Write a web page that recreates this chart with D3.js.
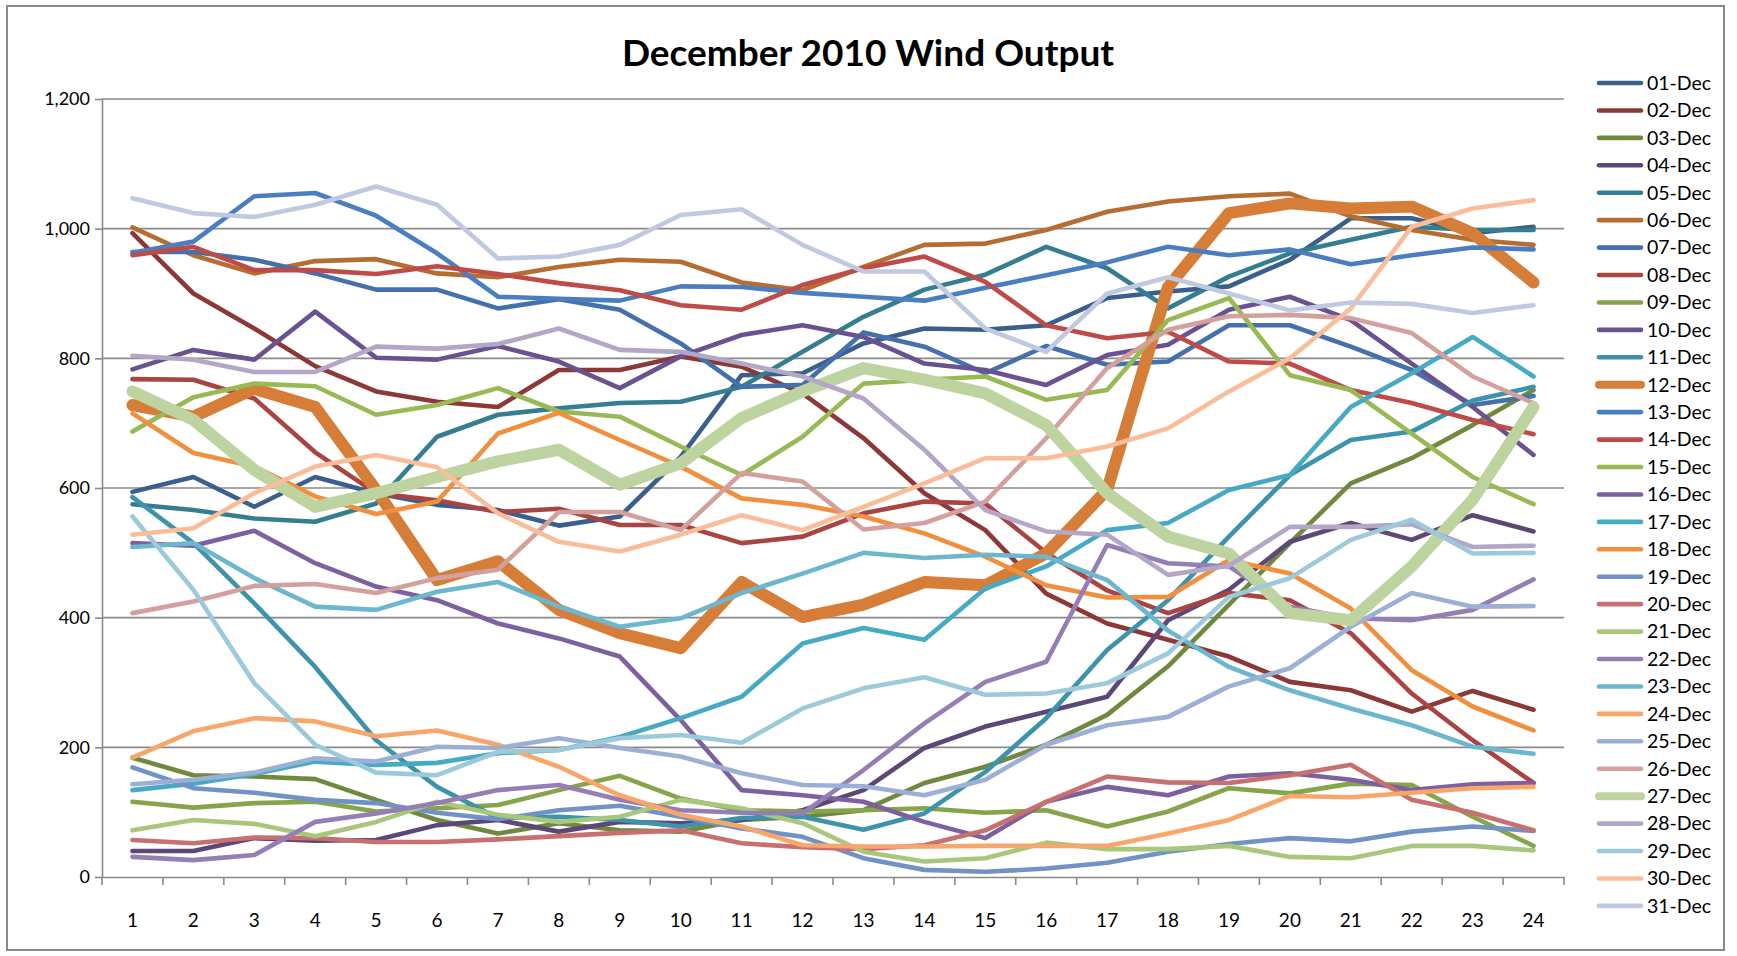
<!DOCTYPE html>
<meta charset="utf-8">
<style>
body { margin: 0; background: #fff; }
svg text { font-family: Lato, "Open Sans", sans-serif; fill: #000; }
.grid line { stroke: #8a8a8a; stroke-width: 1.6; }
.axis path, .axis line { stroke: #8a8a8a; stroke-width: 1.6; }
.series { fill: none; stroke-linejoin: round; stroke-linecap: round; }
</style>
<svg width="1737" height="956"></svg>
<script src="https://d3js.org/d3.v7.min.js"></script>
<script>

// hour of the day, 1..24
var hours = d3.range(1, 25);
var yTicks = [0, 200, 400, 600, 800, 1000, 1200];

var days = ["01-Dec","02-Dec","03-Dec","04-Dec","05-Dec","06-Dec","07-Dec","08-Dec","09-Dec","10-Dec",
  "11-Dec","12-Dec","13-Dec","14-Dec","15-Dec","16-Dec","17-Dec","18-Dec","19-Dec","20-Dec",
  "21-Dec","22-Dec","23-Dec","24-Dec","25-Dec","26-Dec","27-Dec","28-Dec","29-Dec","30-Dec","31-Dec"];

var dec01 = [594,617,571,617,592,574,566,542,556,648,774,777,823,846,844,851,893,903,911,952,1016,1016,993,1003];
var dec02 = [993,900,846,788,749,733,725,782,782,803,787,746,677,592,535,437,391,366,340,301,288,255,287,258];
var dec03 = [184,157,155,151,119,88,67,83,72,70,88,93,103,145,170,204,250,325,420,515,607,646,697,751];
var dec04 = [40,40,60,56,57,80,88,70,85,83,88,103,134,199,232,255,278,396,443,517,546,520,558,533];
var dec05 = [575,566,553,548,576,679,713,723,731,733,756,810,864,906,929,972,939,877,926,962,983,1003,998,998];
var dec06 = [1002,959,931,950,953,931,925,941,952,949,917,905,941,975,977,998,1026,1042,1050,1054,1019,998,983,975];
var dec07 = [964,964,952,931,906,906,877,891,875,823,756,759,840,818,777,819,790,795,851,851,818,782,728,742];
var dec08 = [768,767,738,655,592,581,563,568,543,543,515,525,561,579,576,500,442,407,438,427,376,283,211,145];
var dec09 = [116,107,114,116,101,106,111,134,156,121,103,101,103,106,99,103,78,101,137,129,144,142,93,48];
var dec10 = [783,813,798,872,801,798,819,795,754,803,836,851,833,792,782,759,805,821,875,895,859,792,725,651];
var dec11 = [586,515,422,324,211,139,91,93,88,78,91,93,73,98,162,245,350,427,525,620,674,687,735,756];
var dec12 = [728,710,753,725,597,458,487,412,376,353,455,401,420,455,450,499,597,910,1024,1039,1031,1034,993,917];
var dec13 = [963,980,1050,1055,1020,962,895,892,889,911,910,901,895,889,909,928,948,972,959,968,945,959,971,968];
var dec14 = [959,972,936,936,930,942,930,916,905,882,875,913,939,957,918,851,831,841,795,792,751,731,705,683];
var dec15 = [687,740,761,757,713,728,754,718,710,664,620,679,761,767,772,736,751,859,893,774,751,684,617,575];
var dec16 = [515,511,534,484,448,427,391,368,340,242,134,126,116,85,60,116,139,126,155,160,150,134,143,145];
var dec17 = [134,144,159,178,173,176,191,196,216,245,278,360,384,366,445,479,535,546,597,620,725,777,833,772];
var dec18 = [715,654,633,587,560,579,684,716,674,633,584,574,556,530,494,450,431,432,489,468,414,319,263,226];
var dec19 = [169,137,130,119,114,99,89,103,110,93,75,62,29,11,8,13,22,39,51,60,55,70,78,71];
var dec20 = [57,52,61,60,54,54,58,63,68,72,52,46,43,49,72,116,155,146,145,157,173,119,99,72];
var dec21 = [72,88,82,63,85,116,96,85,93,119,106,83,39,24,29,53,43,43,48,31,29,48,48,41];
var dec22 = [31,26,34,85,98,114,134,142,119,103,99,98,165,237,301,332,512,484,479,417,399,396,412,459];
var dec23 = [509,515,461,417,412,440,455,417,386,399,438,468,500,492,497,494,458,380,324,288,260,234,201,190];
var dec24 = [184,225,245,240,217,226,204,170,126,96,78,49,47,47,48,48,48,67,88,125,123,130,137,139];
var dec25 = [143,150,161,183,178,201,199,214,199,186,160,142,140,126,150,204,234,247,294,322,386,438,417,418];
var dec26 = [407,425,449,452,438,461,474,563,563,535,623,610,536,546,579,677,785,844,865,867,862,839,772,731];
var dec27 = [749,705,628,571,592,617,641,659,605,638,708,749,785,767,746,697,592,525,499,407,396,479,582,725];
var dec28 = [804,798,779,779,818,815,822,846,813,810,792,772,738,659,566,533,528,466,480,540,540,544,509,511];
var dec29 = [556,443,299,204,161,157,193,196,214,219,207,260,291,308,281,283,299,345,432,461,520,551,499,500];
var dec30 = [528,538,592,633,651,632,561,517,502,528,558,535,571,607,646,646,664,692,749,800,877,1003,1031,1044];
var dec31 = [1047,1024,1018,1037,1065,1037,954,957,975,1021,1030,975,934,934,846,810,900,925,900,874,886,884,870,882];

var series = [dec01,dec02,dec03,dec04,dec05,dec06,dec07,dec08,dec09,dec10,dec11,dec12,dec13,dec14,dec15,
  dec16,dec17,dec18,dec19,dec20,dec21,dec22,dec23,dec24,dec25,dec26,dec27,dec28,dec29,dec30,dec31];

// Excel 2007 style palette: six hues, shades from dark to light
var colors = [
  "#3a5f8c","#8c3836","#71893f","#5c4776","#357d91","#b66d31",
  "#4471ac","#a94442","#86a44a","#6a518f","#3d93ab","#d67d38",
  "#4a7ebf","#be4b48","#98b954","#7d60a0","#46aac5","#f0903f",
  "#7192c5","#c86f6f","#a8c77a","#957eb4","#6cb7cd","#f9a66b",
  "#9cb0d5","#d4a09e","#bdd3a0","#b3a6c6","#9ccadb","#f9bd99",
  "#c0c9df"];
var thick = { "12-Dec": true, "27-Dec": true };

var margin = { top: 99, right: 173, bottom: 79, left: 102 },
    width = 1737 - margin.left - margin.right,
    height = 956 - margin.top - margin.bottom;

var svg = d3.select("svg");

svg.append("rect")
    .attr("x", 7).attr("y", 6)
    .attr("width", 1717).attr("height", 944)
    .attr("fill", "none")
    .attr("stroke", "#8a8a8a")
    .attr("stroke-width", 2);

svg.append("text")
    .attr("x", 868).attr("y", 53)
    .attr("dy", "0.35em")
    .attr("text-anchor", "middle")
    .style("font-size", "37px")
    .style("font-weight", "bold")
    .text("December 2010 Wind Output");

var g = svg.append("g")
    .attr("transform", "translate(" + margin.left + "," + margin.top + ")");

var x = d3.scaleBand().domain(hours).range([0, width]);
var y = d3.scaleLinear().domain([0, 1200]).range([height, 0]);

// gridlines
g.append("g")
    .attr("class", "grid")
  .selectAll("line")
  .data(yTicks.slice(1))
  .enter().append("line")
    .attr("x1", 0).attr("x2", width)
    .attr("y1", function(d) { return y(d); })
    .attr("y2", function(d) { return y(d); });

var yAxis = g.append("g")
    .attr("class", "axis")
    .call(d3.axisLeft(y).tickValues(yTicks).tickFormat(d3.format(",")).tickSizeInner(7).tickSizeOuter(0).tickPadding(5));
yAxis.selectAll("text").style("font-size", "18px");

var xAxis = g.append("g")
    .attr("class", "axis")
    .attr("transform", "translate(0," + height + ")")
    .call(d3.axisBottom(x).tickSize(0).tickPadding(37));
xAxis.selectAll("text").style("font-size", "19px");

// tick marks between categories, like Excel
xAxis.selectAll(".between")
  .data(d3.range(0, 25))
  .enter().append("line")
    .attr("class", "between")
    .attr("x1", function(i) { return i * x.step(); })
    .attr("x2", function(i) { return i * x.step(); })
    .attr("y1", 0).attr("y2", 8);

var line = d3.line()
    .x(function(d, i) { return x(hours[i]) + x.bandwidth() / 2; })
    .y(function(d) { return y(d); });

g.selectAll(".series")
  .data(series)
  .enter().append("path")
    .attr("class", "series")
    .attr("d", line)
    .attr("stroke", function(d, i) { return colors[i]; })
    .attr("stroke-width", function(d, i) { return thick[days[i]] ? 12 : 4.6; });

// legend
var legend = svg.append("g")
    .attr("transform", "translate(1599,83)");

var item = legend.selectAll("g")
  .data(days)
  .enter().append("g")
    .attr("transform", function(d, i) { return "translate(0," + (i * 27.43) + ")"; });

item.append("line")
    .attr("x1", 0).attr("x2", 42)
    .attr("stroke", function(d, i) { return colors[i]; })
    .attr("stroke-width", function(d) { return thick[d] ? 8 : 4.6; })
    .attr("stroke-linecap", "round");

item.append("text")
    .attr("x", 48)
    .attr("dy", "0.35em")
    .style("font-size", "19.5px")
    .text(function(d) { return d; });

</script>
